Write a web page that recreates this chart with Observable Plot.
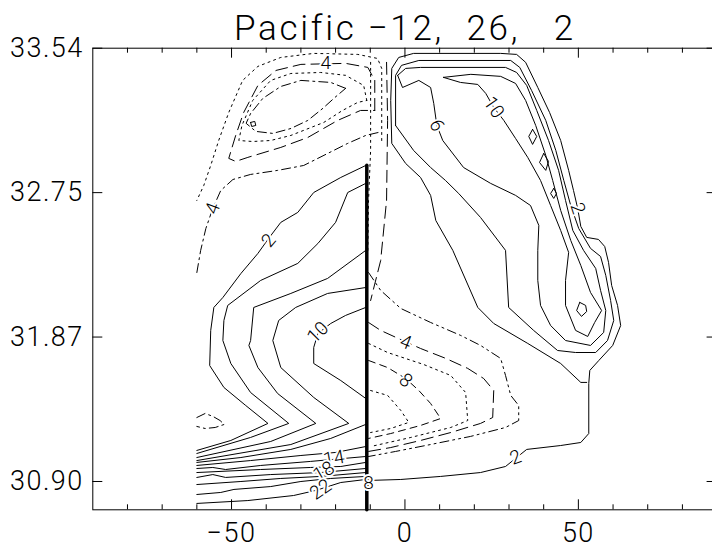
<!DOCTYPE html>
<html><head><meta charset="utf-8">
<script src="https://cdn.jsdelivr.net/npm/d3@7"></script>
<script src="https://cdn.jsdelivr.net/npm/@observablehq/plot@0.6"></script>
<style>body{margin:0;background:#fff;}</style>
</head><body><div id="chart"></div>
<script>
// ---- text / axes ----
const title = "Pacific \u221212,\u00A0\u00A026,\u00A0\u00A0\u00A02";
const xTicks = [-50, 0, 50];
const xMinorTicks = [-80, -70, -60, -40, -30, -20, -10, 10, 20, 30, 40, 60, 70, 80];
const yTickPos = [0, 10, 20, 30];                       // layer index
const yTickLabels = ["30.90", "31.87", "32.75", "33.54"];

// ---- contour lines, [longitude, layer] ----
// right field (solid, positive)
const right2 = [[-10.7,0.07],[-1.2,0.14],[10.3,0.35],[21.8,0.62],[29.0,1.04],[35.1,2.22],[44.9,2.49],[50.7,2.70],[53.0,3.32],[53.0,6.79],[53.3,7.69],[55.9,8.38],[59.9,9.42],[62.2,10.80],[61.3,12.19],[59.6,13.57],[58.7,15.17],[57.6,16.27],[55.8,16.76],[52.4,16.90],[50.7,17.66],[49.8,18.91],[48.6,20.15],[47.2,21.54],[44.9,23.61],[41.7,25.55],[38.3,27.28],[34.8,29.02],[32.2,29.57],[27.6,29.64],[2.5,29.64],[-1.8,29.36],[-3.8,28.60],[-4.1,26.38],[-3.8,23.41],[0.2,22.02],[4.5,21.05],[7.4,19.81],[8.9,18.07],[13.8,16.00],[21.0,12.05],[25.6,10.94],[35.4,9.56],[44.9,8.17],[50.7,6.86],[52.4,6.86]];
const right4 = [[-2.7,24.65],[-2.7,28.12],[-1.0,28.81],[4.0,29.15],[30.5,29.15],[33.1,28.67],[36.5,27.08],[40.6,25.00],[43.5,22.92],[45.8,20.84],[47.8,19.11],[50.1,17.52],[53.5,16.14],[56.4,15.58],[57.9,14.27],[59.3,12.53],[60.2,11.15],[58.4,9.76],[55.0,8.93],[49.2,8.93],[44.0,9.07],[37.1,10.46],[29.9,12.05],[29.0,16.00],[21.8,18.28],[15.5,19.94],[11.7,20.84],[7.4,21.74],[2.5,22.92],[-2.7,24.65]];
const right6 = [[-2.1,28.12],[-0.7,27.28],[4.0,27.77],[7.4,27.28],[8.3,26.18],[9.2,24.65],[10.9,23.61],[16.9,21.74],[24.7,20.64],[31.9,19.81],[36.2,19.11],[38.6,17.73],[38.3,16.00],[38.3,13.92],[39.1,12.19],[42.0,10.80],[46.3,9.76],[53.5,9.42],[57.3,10.32],[57.9,11.84],[56.4,13.23],[55.0,14.75],[51.5,16.00],[48.4,17.38],[46.3,19.46],[44.3,21.54],[41.4,23.61],[38.0,25.69],[35.1,27.42],[32.2,28.32],[29.0,28.67],[4.5,28.67],[0.2,28.60],[-2.1,28.12]];
const right10 = [[11.1,27.98],[16.0,27.63],[21.0,27.49],[23.3,26.87],[25.6,25.90],[28.5,25.00],[31.9,23.75],[35.4,22.44],[39.1,20.84],[42.0,19.11],[44.9,17.38],[47.2,15.86],[46.3,13.92],[46.3,12.19],[49.2,10.46],[52.7,10.04],[54.7,11.01],[56.7,11.84],[53.5,13.09],[50.7,14.96],[47.8,16.69],[44.9,18.77],[42.6,20.84],[40.6,22.58],[37.7,24.65],[34.8,26.38],[31.9,27.56],[27.6,28.05],[19.0,28.19],[11.1,27.98]];
const right12a = [[36.8,24.38],[38.0,23.89],[36.8,23.34],[35.7,23.89],[36.8,24.38]];
const right12b = [[40.0,22.71],[41.4,22.16],[40.6,21.54],[38.8,22.09],[40.0,22.71]];
const right12c = [[42.9,20.29],[43.7,19.94],[42.9,19.60],[42.0,19.94],[42.9,20.29]];
const right12d = [[50.4,12.40],[52.1,12.19],[52.4,11.77],[50.9,11.43],[49.5,11.84],[50.4,12.40]];
// left field (solid, positive)
const left2 = [[-11.3,21.88],[-18.5,21.05],[-26.3,20.01],[-30.9,18.63],[-35.8,17.94],[-39.3,16.83],[-42.4,15.79],[-47.3,14.40],[-52.5,12.74],[-55.1,12.05],[-56.0,10.46],[-56.3,8.03],[-52.2,6.51],[-45.9,5.26],[-39.5,4.02],[-50.2,2.84],[-60,2.15]];
const left4 = [[-11.3,20.64],[-16.5,20.01],[-20.0,17.94],[-25.1,16.48],[-30.9,15.10],[-41.6,13.92],[-51.1,12.19],[-52.2,11.15],[-52.5,9.76],[-50.2,8.17],[-44.5,6.16],[-33.5,4.02],[-44.5,3.05],[-60,1.94]];
const left6 = [[-11.3,16.00],[-22.3,14.06],[-32.9,13.02],[-43.6,12.05],[-44.5,9.76],[-45.0,9.42],[-42.4,7.89],[-36.7,6.09],[-25.7,4.02],[-38.7,2.77],[-60,1.66]];
const left8 = [[-11.3,13.43],[-22.3,13.02],[-31.5,12.05],[-36.4,11.15],[-38.1,9.76],[-35.8,7.89],[-26.3,5.82],[-16.2,4.02],[-32.9,2.56],[-60,1.45]];
const left10 = [[-11.3,12.05],[-17.1,11.50],[-21.4,10.94],[-25.1,10.25],[-26.3,9.28],[-26.3,8.17],[-18.5,6.99],[-11.3,5.75]];
const left12 = [[-60,1.32],[-47.3,1.66],[-32.9,2.22],[-21.4,2.98],[-11.3,3.95]];
const left14 = [[-60,1.11],[-44.5,1.45],[-30.0,1.80],[-20.0,2.01],[-11.3,2.42]];
const left16 = [[-60,0.90],[-55.4,0.97],[-51.7,0.83],[-41.6,1.11],[-27.2,1.39],[-11.3,1.73]];
const left18 = [[-60,0.62],[-41.6,0.83],[-27.2,0.97],[-18.5,1.04],[-11.3,1.32]];
const left20 = [[-60,0.28],[-55.4,0.48],[-51.7,0.28],[-38.7,0.48],[-24.3,0.62],[-11.3,0.90]];
const left22 = [[-60,-0.21],[-47.3,0],[-35.8,0.21],[-24.3,0.35],[-11.3,0.62]];
const left24 = [[-60,-0.90],[-53.1,-0.76],[-49.3,-0.55],[-38.7,-0.35],[-30.0,0],[-21.4,0.21],[-11.3,0.35]];
const left26 = [[-60,-1.52],[-45.3,-1.32],[-32.1,-0.97],[-25.7,-0.62],[-18.5,-0.07],[-11.3,0.14]];
// negative contours
const negTop2 = [[-6.7,23.61],[-6.7,28.60],[-7.9,29.29],[-13.6,29.57],[-26.3,29.64],[-35.8,29.36],[-42.4,28.74],[-46.8,27.77],[-50.8,25.55],[-53.7,23.61],[-56.0,21.88],[-58.0,20.50],[-60,19.46]];
const negTop4 = [[-8.7,25.69],[-8.7,27.77],[-10.7,28.67],[-17.1,28.95],[-30.0,28.88],[-37.2,28.46],[-42.4,27.42],[-46.5,25.55],[-48.8,23.96],[-50.8,22.37],[-48.8,22.16],[-45.3,22.44],[-35.8,23.13],[-28.0,23.82],[-19.4,25.00],[-12.8,25.69],[-8.7,25.69]];
const negTop6 = [[-11.0,26.38],[-11.9,27.42],[-17.1,28.12],[-24.3,28.32],[-32.9,28.25],[-38.7,27.77],[-43.9,26.38],[-47.0,24.65],[-47.9,23.61],[-43.9,23.54],[-38.7,23.61],[-32.9,23.96],[-23.4,24.86],[-18.0,25.69],[-13.6,26.25],[-11.0,26.38]];
const negTop8 = [[-17.1,27.22],[-21.4,27.63],[-30.0,27.77],[-35.8,27.35],[-41.0,26.52],[-44.5,25.48],[-45.8,24.80],[-43.0,24.24],[-38.1,24.10],[-32.9,24.44],[-28.0,25.00],[-23.7,25.83],[-20.2,26.59],[-17.1,27.22]];
const negTop10 = [[-44.5,24.86],[-43.3,24.93],[-43.0,24.65],[-44.2,24.58],[-44.5,24.86]];
const negArc = [[-60,14.47],[-58.9,16.00],[-57.4,17.52],[-55.4,18.91],[-53.1,20.15],[-49.6,20.91],[-44.5,21.26],[-36.7,21.54],[-29.2,21.88],[-22.3,22.71],[-16.5,23.41],[-11.3,23.96],[-7.6,24.17]];
const negSmall = [[-60,4.43],[-57.6,4.71],[-55.3,4.50],[-53.3,4.22],[-52.1,3.95],[-54.7,3.74],[-57.6,3.67],[-60,3.81]];
const negEdgeA = [[-5.3,29.02],[-5.0,25.00],[-5.3,19.46],[-7.0,15.30],[-9.9,12.53]];
const negEdgeB = [[-9.9,29.02],[-9.9,22.92],[-10.5,19.46],[-10.7,16.00]];
const negMid2 = [[-10.5,14.47],[-7.0,13.23],[-1.2,11.98],[7.4,11.01],[16.1,10.11],[21.8,9.42],[27.6,8.52],[29.0,7.34],[30.5,5.96],[32.8,5.26],[32.8,4.22],[29.0,3.74],[18.9,3.12],[7.4,2.56],[-2.7,2.08],[-10.5,1.73]];
const negMid4 = [[-10.5,11.01],[-7.0,10.46],[-1.9,9.90],[4.5,9.21],[11.8,8.52],[18.1,7.83],[22.7,7.13],[25.6,6.30],[25.3,4.43],[21.8,4.02],[13.2,3.39],[4.5,2.84],[-4.1,2.35],[-10.5,2.08]];
const negMid6 = [[-10.5,9.56],[-5.0,8.93],[5.4,8.10],[13.2,7.34],[17.5,6.16],[18.1,4.22],[13.2,3.74],[1.7,3.05],[-9.9,2.42]];
const negMid8 = [[-10.5,8.38],[-5.0,7.89],[0.2,7.13],[4.0,6.30],[7.4,5.40],[10.3,4.36],[4.5,3.88],[-4.1,3.32],[-10.5,2.98]];
const negMid10 = [[-9.9,6.30],[-5.0,5.96],[-1.2,4.92],[1.1,4.09],[-4.1,3.67],[-9.9,3.39]];
// section boundary where contours pile up
const boundary = [[-11,-1.96],[-11,21.9]];

// contour labels
const labelText = ["10","6","2","2","2","10","4","4","14","18","22","8","4","8"];
const labelLon  = [25.6, 9.2, 49.8, 31.9, -39.3, -25.1, -55.4, -22.8, -20.5, -23.4, -24.3, -10.5, 0.2, 0.2];
const labelLay  = [25.90, 24.65, 18.91, 1.66, 16.69, 10.32, 18.91, 28.95, 1.59, 0.69, -0.55, -0.07, 9.63, 6.99];
const labelAngle = [55, 65, 72, -20, -50, -45, -70, 0, -10, -30, -35, 0, 22, 40];

// ---- styles ----
const solidSet = [right2, right4, right6, right10, right12a, right12b, right12c, right12d,
  left2, left4, left6, left8, left10, left12, left14, left16, left18, left20, left22, left24, left26, negTop10];
const dottedSet = [negTop2, negTop6, negMid6, negMid10, negEdgeB];
const dashedSet = [negTop4, negMid4, negEdgeA];
const shortDashSet = [negMid8];
const dashDotSet = [negTop8, negArc, negSmall];
const dashDotDotSet = [negMid2];

const line = (pts, dash) => Plot.line(pts, {x: d => d[0], y: d => d[1], stroke: "black", strokeWidth: 1, strokeDasharray: dash});
const labels = labelText.map((t, i) => ({t, lon: labelLon[i], lay: labelLay[i], a: labelAngle[i]}));

// layout
const W = 712, H = 551, mL = 92.3, mR = -4.6, mT = 47.7, mB = 41.7;
const xDom = [-90, 90], yDom = [-1.96, 30];
const kx = (W - mL - mR) / (xDom[1] - xDom[0]);   // px per degree
const ky = (H - mT - mB) / (yDom[1] - yDom[0]);   // px per layer
const major = 10, minor = 5;                        // tick lengths, px
const tick = {stroke: "black", strokeWidth: 1};

const font = "Roboto, 'Liberation Sans', 'DejaVu Sans', sans-serif";
const plot = Plot.plot({
  width: W, height: H,
  marginLeft: mL, marginRight: mR, marginTop: mT, marginBottom: mB,
  style: {fontFamily: font, fontWeight: 300, background: "white", color: "black"},
  x: {domain: xDom, axis: null},
  y: {domain: yDom, axis: null},
  marks: [
    Plot.frame({stroke: "black"}),
    ...solidSet.map(p => line(p, null)),
    ...dottedSet.map(p => line(p, "2,4")),
    ...dashedSet.map(p => line(p, "12,6")),
    ...shortDashSet.map(p => line(p, "7,5")),
    ...dashDotSet.map(p => line(p, "9,4,2,4")),
    ...dashDotDotSet.map(p => line(p, "9,4,2,4,2,4")),
    Plot.line(boundary, {x: d => d[0], y: d => d[1], stroke: "black", strokeWidth: 3.5}),
    Plot.text(labels, {x: "lon", y: "lay", text: "t", rotate: "a", fontSize: 19, fill: "black",
      stroke: "white", strokeWidth: 4, paintOrder: "stroke"}),
    // inward ticks
    Plot.ruleX(xTicks, {x: d => d, y1: yDom[0], y2: yDom[0] + major / ky, ...tick}),
    Plot.ruleX(xTicks, {x: d => d, y1: yDom[1] - major / ky, y2: yDom[1], ...tick}),
    Plot.ruleX(xMinorTicks, {x: d => d, y1: yDom[0], y2: yDom[0] + minor / ky, ...tick}),
    Plot.ruleX(xMinorTicks, {x: d => d, y1: yDom[1] - minor / ky, y2: yDom[1], ...tick}),
    Plot.ruleY(yTickPos, {y: d => d, x1: xDom[0], x2: xDom[0] + major / kx, ...tick}),
    Plot.ruleY(yTickPos, {y: d => d, x1: xDom[1] - major / kx, x2: xDom[1], ...tick}),
    // tick labels
    Plot.axisX({anchor: "bottom", ticks: xTicks, tickSize: 0, tickPadding: 13, fontSize: 27,
      tickFormat: d3.format("d"), label: null}),
    Plot.axisY({anchor: "left", ticks: yTickPos, tickSize: 0, tickPadding: 9, fontSize: 27,
      tickFormat: d => yTickLabels[yTickPos.indexOf(d)], label: null}),
    Plot.text([title], {text: d => d, frameAnchor: "top", lineAnchor: "bottom", dy: -8, fontSize: 35})
  ]
});
document.getElementById("chart").appendChild(plot);
plot.querySelectorAll("text").forEach(t => {
  const fs = parseFloat(getComputedStyle(t).fontSize);
  if (fs >= 30) t.style.letterSpacing = "2.7px";
  else if (fs >= 26) t.style.letterSpacing = "1.5px";
});
</script>
</body></html>
